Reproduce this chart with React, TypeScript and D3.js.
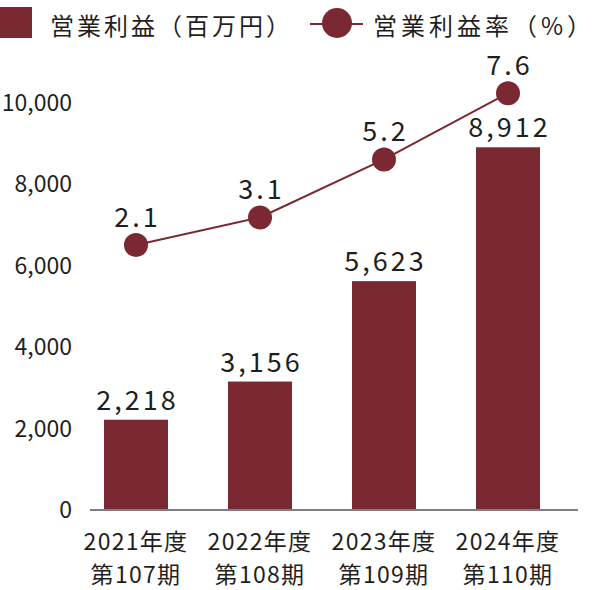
import React, { useEffect, useRef } from 'react';
import * as d3 from 'd3';

const categories = ['2021年度', '2022年度', '2023年度', '2024年度'];
const periods = ['第107期', '第108期', '第109期', '第110期'];
const operatingProfit = [2218, 3156, 5623, 8912];
const profitRate = [2.1, 3.1, 5.2, 7.6];
const yTicks = [0, 2000, 4000, 6000, 8000, 10000];

const legendBar = '営業利益（百万円）';
const legendLine = '営業利益率（%）';

const App: React.FC = () => {
    const svgRef = useRef(null);

    const width = 600;
    const height = 590;

    useEffect(() => {
        const svg = d3.select(svgRef.current);
        svg.selectAll("*").remove();

        const color = "#7a2831";
        const font = "'Noto Sans CJK JP', 'Noto Sans', sans-serif";
        const textColor = "#1f1f1f";

        const xScale = d3.scaleBand<string>()
            .domain(categories)
            .range([74, 570])
            .paddingInner(0.484)
            .paddingOuter(0.242);

        const yScale = d3.scaleLinear()
            .domain([0, 10000])
            .range([510, 103]);

        // secondary axis for the rate, not drawn
        const y2Scale = d3.scaleLinear()
            .domain([0, 10])
            .range([303, 27]);

        const cx = (i: number) => (xScale(categories[i]) || 0) + xScale.bandwidth() / 2;

        // y tick labels
        svg.append("g")
            .selectAll("text")
            .data(yTicks)
            .enter().append("text")
            .attr("x", 72)
            .attr("y", d => yScale(d) - 2)
            .attr("text-anchor", "end")
            .attr("dominant-baseline", "central")
            .attr("font-family", font)
            .attr("font-size", 23)
            .attr("fill", textColor)
            .text(d => d3.format(",")(d));

        // bars
        svg.append("g")
            .selectAll("rect")
            .data(operatingProfit)
            .enter().append("rect")
            .attr("x", (d, i) => xScale(categories[i]) || 0)
            .attr("y", d => yScale(d))
            .attr("width", xScale.bandwidth())
            .attr("height", d => yScale(0) - yScale(d))
            .attr("fill", color);

        // bar values
        svg.append("g")
            .selectAll("text")
            .data(operatingProfit)
            .enter().append("text")
            .attr("x", (d, i) => cx(i) + 1.5)
            .attr("y", d => yScale(d) - 10)
            .attr("text-anchor", "middle")
            .attr("font-family", font)
            .attr("font-size", 27)
            .attr("letter-spacing", 3)
            .attr("fill", textColor)
            .text(d => d3.format(",")(d));

        // baseline
        svg.append("line")
            .attr("x1", 90)
            .attr("x2", 578)
            .attr("y1", yScale(0))
            .attr("y2", yScale(0))
            .attr("stroke", "#7f7f7f")
            .attr("stroke-width", 2);

        // category labels
        const labels = svg.append("g")
            .selectAll("g")
            .data(categories)
            .enter().append("g");
        labels.append("text")
            .attr("x", (d, i) => cx(i))
            .attr("y", 540)
            .attr("text-anchor", "middle")
            .attr("dominant-baseline", "central")
            .attr("font-family", font)
            .attr("font-size", 23)
            .attr("letter-spacing", 1.3)
            .attr("fill", textColor)
            .text(d => d);
        labels.append("text")
            .attr("x", (d, i) => cx(i))
            .attr("y", 573)
            .attr("text-anchor", "middle")
            .attr("dominant-baseline", "central")
            .attr("font-family", font)
            .attr("font-size", 23)
            .attr("letter-spacing", 1.3)
            .attr("fill", textColor)
            .text((d, i) => periods[i]);

        // rate line
        const line = d3.line<number>()
            .x((d, i) => cx(i))
            .y(d => y2Scale(d));

        svg.append("path")
            .datum(profitRate)
            .attr("d", line)
            .attr("fill", "none")
            .attr("stroke", color)
            .attr("stroke-width", 2);

        svg.append("g")
            .selectAll("circle")
            .data(profitRate)
            .enter().append("circle")
            .attr("cx", (d, i) => cx(i))
            .attr("cy", d => y2Scale(d))
            .attr("r", 12)
            .attr("fill", color);

        svg.append("g")
            .selectAll("text")
            .data(profitRate)
            .enter().append("text")
            .attr("x", (d, i) => cx(i) + 1.5)
            .attr("y", d => y2Scale(d) - 18)
            .attr("text-anchor", "middle")
            .attr("font-family", font)
            .attr("font-size", 27)
            .attr("letter-spacing", 3)
            .attr("fill", textColor)
            .text(d => d.toFixed(1));

        // legend
        const legend = svg.append("g");
        legend.append("rect")
            .attr("x", 0)
            .attr("y", 7)
            .attr("width", 32)
            .attr("height", 31)
            .attr("fill", color);
        legend.append("text")
            .attr("x", 50)
            .attr("y", 24)
            .attr("dominant-baseline", "central")
            .attr("font-family", font)
            .attr("font-size", 24)
            .attr("letter-spacing", 3)
            .attr("fill", textColor)
            .text(legendBar);
        legend.append("line")
            .attr("x1", 310)
            .attr("x2", 363)
            .attr("y1", 24)
            .attr("y2", 24)
            .attr("stroke", color)
            .attr("stroke-width", 2);
        legend.append("circle")
            .attr("cx", 337)
            .attr("cy", 23)
            .attr("r", 15)
            .attr("fill", color);
        legend.append("text")
            .attr("x", 373)
            .attr("y", 24)
            .attr("dominant-baseline", "central")
            .attr("font-family", font)
            .attr("font-size", 24)
            .attr("letter-spacing", 4)
            .attr("fill", textColor)
            .text(legendLine);
    }, []);

    return (
        <svg
            ref={svgRef}
            width={width}
            height={height}
            style={{ position: 'absolute', left: 0, top: 0, backgroundColor: 'white' }}
        ></svg>
    );
};

export default App;
